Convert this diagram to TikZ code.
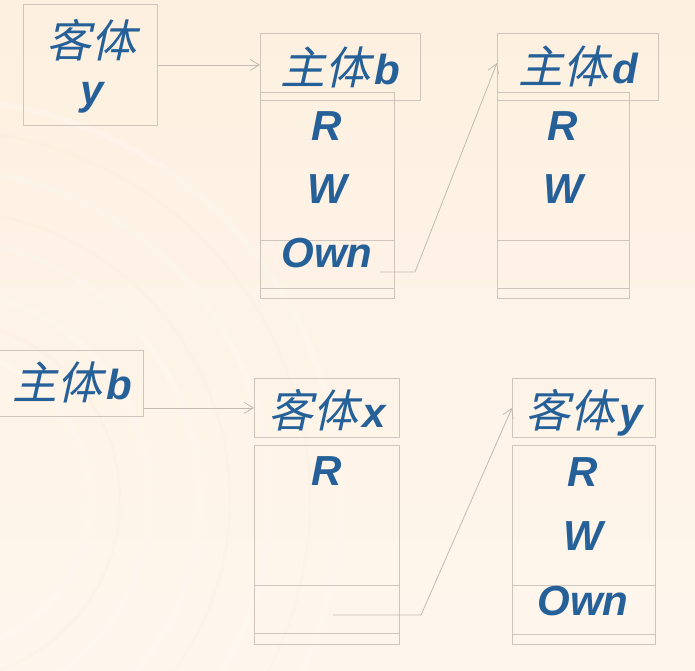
\documentclass[tikz,border=0pt]{standalone}
\usepackage{fontspec}
\setmainfont{Liberation Sans}
\newfontfamily\cjk{Noto Sans CJK SC}[FakeSlant=0.22]
\usepackage{tikz}
\usetikzlibrary{arrows.meta, positioning, calc}
\definecolor{bgpeach}{RGB}{253,240,224}
\definecolor{bglight}{RGB}{254,246,237}
\definecolor{boxline}{RGB}{208,197,189}
\definecolor{linkline}{RGB}{196,186,178}
\definecolor{txtblue}{RGB}{38,96,152}
\newcommand{\zh}[1]{{\cjk\mdseries\fontsize{45}{50}\selectfont #1}\kern4pt}

\begin{document}
\begin{tikzpicture}[x=1pt, y=-1pt,
  font=\fontsize{42}{48}\selectfont\bfseries\itshape,
  box/.style={draw=boxline, line width=0.8pt, inner sep=0pt, anchor=north west},
  lbl/.style={text=txtblue, inner sep=0pt, anchor=base},
  link/.style={draw=linkline, line width=0.8pt, -{Straight Barb[length=9pt,width=11pt]}},
  divider/.style={draw=boxline, line width=0.8pt}]
% background
\useasboundingbox (0,0) rectangle (695,670);
\shade[top color=bgpeach, bottom color=bglight] (0,0) rectangle (695,670);
\foreach \r in {150,210,260,330,400}
  \draw[white, line width=6pt, opacity=0.18] (-60,500) circle (\r);
\foreach \r in {180,290,370}
  \draw[bgpeach!80!brown, line width=3pt, opacity=0.08] (-60,500) circle (\r);

% upper part
\node[box, minimum width=134pt, minimum height=121pt] (ky) at (23,4) {};
\node[lbl] (kyt1) at (93,57) {\zh{客体}};
\node[lbl] (kyt2) at (92,104) {y};

\node[box, minimum width=160pt, minimum height=67pt] (hb) at (260,33) {};
\node[box, minimum width=134pt, minimum height=206pt] (cb) at (260,92) {};
\draw[divider] ([yshift=58pt]cb.south west) -- ([yshift=58pt]cb.south east);
\draw[divider] ([yshift=10pt]cb.south west) -- ([yshift=10pt]cb.south east);
\node[lbl] (hbt) at (340,84) {\zh{主体}b};
\node[lbl] (rb) at (327,140) {R};
\node[lbl] (wb) at (327,203) {W};
\node[lbl] (ownb) at (327,267) {Own};

\node[box, minimum width=161pt, minimum height=67pt] (hd) at (497,33) {};
\node[box, minimum width=132pt, minimum height=206pt] (cd) at (497,92) {};
\draw[divider] ([yshift=58pt]cd.south west) -- ([yshift=58pt]cd.south east);
\draw[divider] ([yshift=10pt]cd.south west) -- ([yshift=10pt]cd.south east);
\node[lbl] (hdt) at (578,83) {\zh{主体}d};
\node[lbl] (rd) at (563,140) {R};
\node[lbl] (wd) at (563,203) {W};

\draw[link] (ky.east) -- (ky.east -| hb.west);
\coordinate (ownbend) at (380,272);
\draw[link] (ownbend) -- ++(35,0) -- ([yshift=4pt]hd.west);

% lower part
\node[box, minimum width=148pt, minimum height=66pt] (sb) at (-5,350) {};
\node[lbl] (sbt) at (72,399) {\zh{主体}b};

\node[box, minimum width=145pt, minimum height=59pt] (hx) at (254,378) {};
\node[box, minimum width=145pt, minimum height=199pt] (cx) at (254,445) {};
\draw[divider] ([yshift=59pt]cx.south west) -- ([yshift=59pt]cx.south east);
\draw[divider] ([yshift=11pt]cx.south west) -- ([yshift=11pt]cx.south east);
\node[lbl] (hxt) at (327,427) {\zh{客体}x};
\node[lbl] (rx) at (327,485) {R};

\node[box, minimum width=143pt, minimum height=59pt] (hy) at (512,378) {};
\node[box, minimum width=143pt, minimum height=199pt] (cy) at (512,445) {};
\draw[divider] ([yshift=59pt]cy.south west) -- ([yshift=59pt]cy.south east);
\draw[divider] ([yshift=10pt]cy.south west) -- ([yshift=10pt]cy.south east);
\node[lbl] (hyt) at (584,427) {\zh{客体}y};
\node[lbl] (ry) at (583,486) {R};
\node[lbl] (wy) at (583,550) {W};
\node[lbl] (owny) at (583,615) {Own};

\draw[link] (sb.east |- hx.west) -- (hx.west);
\coordinate (ownxbend) at (333,615);
\draw[link] (ownxbend) -- ++(88,0) -- (hy.west);
\end{tikzpicture}
\end{document}
